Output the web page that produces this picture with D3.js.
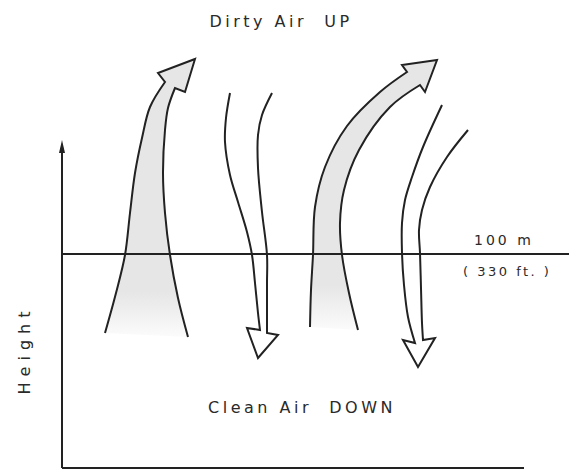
<!DOCTYPE html>
<html lang="en">
<head>
<meta charset="UTF-8" />
<title>Dirty Air UP / Clean Air DOWN</title>
<style>
  body { margin: 0; background: #fff; }
  .lbl { font-family: "DejaVu Sans", sans-serif; fill: #2a2a2a; white-space: pre; }
</style>
</head>
<body>
<svg width="569" height="475"></svg>
<script src="https://cdnjs.cloudflare.com/ajax/libs/d3/7.8.5/d3.min.js"></script>
<script>
// units: horizontal distance / height from the origin of the axes
var refHeight = 214;          // the 100 m (330 ft) level
var axisTop = 328, axisRight = 462;

// up-going (dirty, shaded) arrows: left edge bottom->top, head, right edge top->bottom
var up1Left  = [[43,135],[54,175],[63,213],[68,255],[73,295],[80,330],[88,361],[103,386]];
var up1Head  = [[96,395],[133,409],[123,376]];
var up1Right = [[113,380],[106,360],[103,338],[101,295],[103,255],[108,213],[116,170],[126,131]];

var up2Left  = [[248,141],[249,178],[251,213],[253,261],[263,301],[285,342],[318,376],[345,396]];
var up2Head  = [[340,403],[375,408],[363,376]];
var up2Right = [[358,383],[328,361],[297,318],[282,278],[278,245],[280,213],[287,175],[296,138]];

// down-going (clean) arrows: left edge top->bottom, head, right edge bottom->top
var down1Left  = [[168,375],[164,350],[163,326],[168,293],[176,266],[185,236],[190,213],[193,185],[196,155],[198,138]];
var down1Head  = [[185,140],[196,110],[216,133]];
var down1Right = [[205,135],[205,155],[205,185],[205,213],[200,256],[196,300],[196,333],[200,353],[210,375]];

var down2Left  = [[380,363],[361,321],[350,291],[343,268],[340,245],[340,215],[342,183],[346,151],[353,125]];
var down2Head  = [[341,128],[356,101],[373,130]];
var down2Right = [[361,128],[360,145],[359,180],[358,215],[357,238],[360,258],[368,281],[385,311],[406,338]];

var arrows = [
  {dir: "up",   left: up1Left,   head: up1Head,   right: up1Right},
  {dir: "down", left: down1Left, head: down1Head, right: down1Right},
  {dir: "up",   left: up2Left,   head: up2Head,   right: up2Right},
  {dir: "down", left: down2Left, head: down2Head, right: down2Right}
];

var svg = d3.select("svg");

var x = d3.scaleLinear().domain([0, axisRight]).range([62, 524]);
var y = d3.scaleLinear().domain([0, axisTop]).range([468, 140]);

var edge = d3.line()
    .x(function(d) { return x(d[0]); })
    .y(function(d) { return y(d[1]); })
    .curve(d3.curveCatmullRom.alpha(0.5));

function arrowPath(a) {
  var p = edge(a.left);
  a.head.forEach(function(h) { p += "L" + x(h[0]) + "," + y(h[1]); });
  p += edge(a.right).replace(/^M/, "L");
  return p;
}

// shading fades out towards the bottom of each plume
var defs = svg.append("defs");
var ups = arrows.filter(function(d) { return d.dir == "up"; });
ups.forEach(function(a, i) {
  var bottom = Math.min(a.left[0][1], a.right[a.right.length - 1][1]);
  var g = defs.append("linearGradient")
      .attr("id", "shade" + i)
      .attr("gradientUnits", "userSpaceOnUse")
      .attr("x1", 0).attr("x2", 0)
      .attr("y1", y(bottom)).attr("y2", y(bottom + 45));
  g.append("stop").attr("offset", 0).attr("stop-color", "#e6e6e6").attr("stop-opacity", 0.15);
  g.append("stop").attr("offset", 1).attr("stop-color", "#e6e6e6").attr("stop-opacity", 1);
});

svg.selectAll("path.fill")
  .data(ups)
  .enter().append("path")
    .attr("class", "fill")
    .attr("d", function(d) { return arrowPath(d) + "Z"; })
    .attr("fill", function(d, i) { return "url(#shade" + i + ")"; })
    .attr("stroke", "none");

// axes
svg.append("line")
    .attr("x1", x(0)).attr("x2", x(0))
    .attr("y1", y(0)).attr("y2", y(axisTop) + 6)
    .attr("stroke", "#222").attr("stroke-width", 2);
svg.append("path")
    .attr("d", "M" + x(0) + "," + y(axisTop) + "L" + (x(0) - 3) + "," + (y(axisTop) + 13) +
               "L" + (x(0) + 3) + "," + (y(axisTop) + 13) + "Z")
    .attr("fill", "#222");
svg.append("line")
    .attr("x1", x(0)).attr("x2", x(axisRight))
    .attr("y1", y(0)).attr("y2", y(0))
    .attr("stroke", "#222").attr("stroke-width", 2);

// 100 m reference level
svg.append("line")
    .attr("x1", x(0)).attr("x2", 569)
    .attr("y1", y(refHeight)).attr("y2", y(refHeight))
    .attr("stroke", "#222").attr("stroke-width", 2);

// arrow outlines
svg.selectAll("path.arrow")
  .data(arrows)
  .enter().append("path")
    .attr("class", "arrow")
    .attr("d", arrowPath)
    .attr("fill", "none")
    .attr("stroke", "#222")
    .attr("stroke-width", 2)
    .attr("stroke-linejoin", "miter");

// labels
svg.append("text").attr("class", "lbl")
    .attr("x", 281).attr("y", 27)
    .attr("text-anchor", "middle").attr("font-size", 16)
    .attr("letter-spacing", 3.5)
    .text("Dirty Air  UP");
svg.append("text").attr("class", "lbl")
    .attr("x", 302).attr("y", 413)
    .attr("text-anchor", "middle").attr("font-size", 16)
    .attr("letter-spacing", 3.5)
    .text("Clean Air  DOWN");
svg.append("text").attr("class", "lbl")
    .attr("x", 474).attr("y", y(refHeight) - 9)
    .attr("font-size", 14).attr("letter-spacing", 3)
    .text("100 m");
svg.append("text").attr("class", "lbl")
    .attr("x", 463).attr("y", y(refHeight) + 22)
    .attr("font-size", 13).attr("letter-spacing", 2.5)
    .text("( 330 ft. )");
svg.append("text").attr("class", "lbl")
    .attr("transform", "translate(30,350) rotate(-90)")
    .attr("text-anchor", "middle").attr("font-size", 16)
    .attr("letter-spacing", 6)
    .text("Height");
</script>
</body>
</html>
